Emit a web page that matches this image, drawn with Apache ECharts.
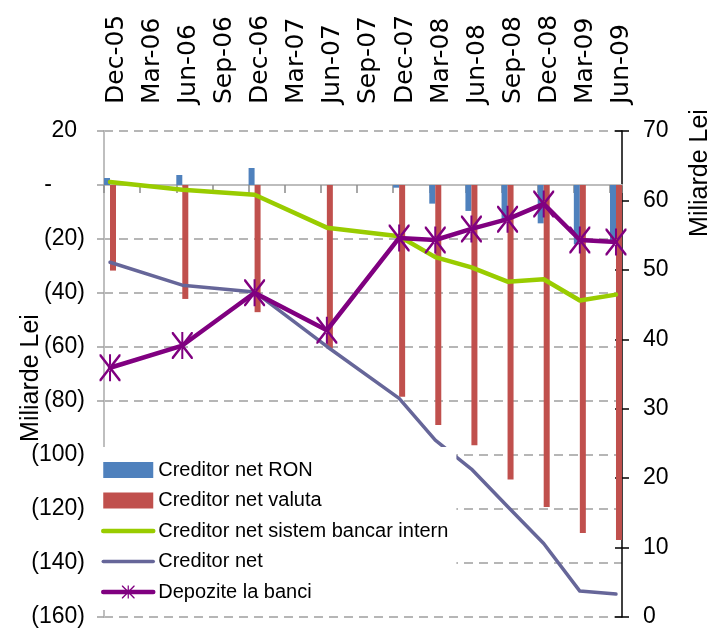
<!DOCTYPE html>
<html>
<head>
<meta charset="utf-8">
<script src="https://cdn.jsdelivr.net/npm/echarts@6/dist/echarts.min.js"></script>
<style>
  html, body { margin: 0; padding: 0; background: #fff; }
  #chart { width: 714px; height: 634px; }
</style>
</head>
<body>
<div id="chart"></div>
<script>
// quarterly tick labels along the top
const tickLabels = ['Dec-05', 'Mar-06', 'Jun-06', 'Sep-06', 'Dec-06', 'Mar-07', 'Jun-07', 'Sep-07',
  'Dec-07', 'Mar-08', 'Jun-08', 'Sep-08', 'Dec-08', 'Mar-09', 'Jun-09']
// dates that carry data
const dates = ['Dec-05', 'Jun-06', 'Dec-06', 'Jun-07', 'Dec-07', 'Mar-08', 'Jun-08', 'Sep-08', 'Dec-08', 'Mar-09', 'Jun-09']

const creditorRon = [2.6, 3.7, 6.3, 0, -1.0, -6.9, -9.6, -12.9, -14.2, -22.0, -21.0]
const creditorValuta = [-31.7, -42.2, -47.1, -60.6, -78.4, -88.9, -96.4, -109.1, -119.3, -128.9, -131.5]
const sistemBancar = [1.1, -1.8, -3.6, -15.8, -19.0, -26.7, -30.5, -35.8, -34.9, -42.8, -40.6]
const creditorNet = [-28.6, -37.1, -39.6, -59.8, -79.0, -94.5, -105.2, -119.1, -132.8, -150.4, -151.5]
const depozite = [35.9, 39.1, 46.7, 41.3, 54.6, 54.3, 55.9, 57.3, 59.5, 54.3, 54.0]

const FONT = '"Liberation Sans", Arial, sans-serif'

// month axis: each date sits in the middle of its month slot
const monthX = d => tickLabels.indexOf(d) * 3 + 0.5
const pairs = arr => dates.map((d, i) => [monthX(d), arr[i]])

const STAR = 'path://M9.5,0 H11.5 V27 H9.5 Z M0,0 L1.6,0 L21,25 L21,27 L19.4,27 L0,2 Z M21,0 L19.4,0 L0,25 L0,27 L1.6,27 L21,2 Z'

const myEChart = echarts.init(document.getElementById('chart'))
const option = {
  animation: false,
  grid: [
    { left: 104, right: 92, top: 131, bottom: 17 },
    // grid used only to carry the top labels
    { left: 116, right: 80, top: 131, bottom: 17 }
  ],
  legend: {
    orient: 'vertical',
    left: 94,
    top: 447,
    padding: [12, 8, 7, 7],
    backgroundColor: '#fff',
    itemWidth: 50,
    itemHeight: 16,
    itemGap: 8.5,
    z: 10,
    lineStyle: { width: 'inherit', cap: 'round' },
    textStyle: { fontFamily: FONT, fontSize: 20, color: '#000', lineHeight: 22 },
    data: [
      { name: 'Creditor net RON', icon: 'rect' },
      { name: 'Creditor net valuta', icon: 'rect' },
      { name: 'Creditor net sistem bancar intern', itemStyle: { opacity: 0 } },
      { name: 'Creditor net', itemStyle: { opacity: 0 } },
      'Depozite la banci'
    ]
  },
  xAxis: [
    {
      type: 'value',
      gridIndex: 0,
      min: 0,
      max: 43,
      interval: 3,
      position: 'bottom',
      axisLine: { show: true, onZero: true, onZeroAxisIndex: 0, lineStyle: { color: '#BDBDBD', width: 2 } },
      axisTick: { show: true, length: 8, lineStyle: { color: '#8C8C8C', width: 1.5 } },
      axisLabel: { show: false },
      splitLine: { show: false }
    },
    {
      type: 'value',
      gridIndex: 1,
      min: 0,
      max: 43,
      interval: 3,
      position: 'top',
      axisLine: { show: false },
      axisTick: { show: false },
      splitLine: { show: false },
      axisLabel: {
        rotate: 90,
        margin: 27,
        fontFamily: '"DejaVu Sans", sans-serif',
        fontSize: 25,
        color: '#000',
        formatter: v => (v % 3 === 0 && tickLabels[v / 3]) ? tickLabels[v / 3] : ''
      }
    }
  ],
  yAxis: [
    {
      type: 'value',
      gridIndex: 0,
      position: 'left',
      min: -160,
      max: 20,
      interval: 20,
      axisLine: { show: true, lineStyle: { color: '#BFBFBF', width: 2 } },
      axisTick: { show: true, length: 7, lineStyle: { color: '#9E9E9E', width: 1.5 } },
      axisLabel: {
        margin: 19,
        fontFamily: FONT,
        fontSize: 23,
        color: '#000',
        formatter: v => v > 0 ? '{pos|' + v + '}' : (v === 0 ? '{zero|-}' : '(' + (-v) + ')'),
        rich: {
          pos: { fontFamily: FONT, fontSize: 23, color: '#000', padding: [0, 8, 0, 0] },
          zero: { fontFamily: FONT, fontSize: 23, color: '#000', padding: [0, 33, 0, 0] }
        }
      },
      splitLine: { show: true, lineStyle: { color: '#9E9E9E', width: 1.5, type: [9, 6] } }
    },
    {
      type: 'value',
      gridIndex: 0,
      position: 'right',
      min: 0,
      max: 70,
      interval: 10,
      axisLine: { show: true, lineStyle: { color: '#000', width: 1.5 } },
      axisTick: { show: true, length: 7, lineStyle: { color: '#000', width: 1.5 } },
      axisLabel: { margin: 21, fontFamily: FONT, fontSize: 23, color: '#000' },
      splitLine: { show: false }
    },
    {
      // inner half of the crossing ticks on the right
      type: 'value',
      gridIndex: 0,
      position: 'right',
      min: 0,
      max: 70,
      interval: 10,
      axisLine: { show: false },
      axisTick: { show: true, inside: true, length: 7, lineStyle: { color: '#000', width: 1.5 } },
      axisLabel: { show: false },
      splitLine: { show: false }
    },
    { type: 'value', gridIndex: 1, min: 0, max: 1, show: false }
  ],
  graphic: [
    {
      type: 'text', x: 31, y: 378, rotation: Math.PI / 2,
      style: { text: 'Miliarde Lei', fontFamily: FONT, fontSize: 25, fill: '#000', align: 'center', verticalAlign: 'middle' }
    },
    {
      type: 'text', x: 700, y: 173, rotation: Math.PI / 2,
      style: { text: 'Miliarde Lei', fontFamily: FONT, fontSize: 25, fill: '#000', align: 'center', verticalAlign: 'middle' }
    }
  ],
  series: [
    {
      name: 'Creditor net RON',
      type: 'bar',
      xAxisIndex: 0,
      yAxisIndex: 0,
      barWidth: 6,
      barGap: '0%',
      itemStyle: { color: '#4F81BD' },
      data: pairs(creditorRon)
    },
    {
      name: 'Creditor net valuta',
      type: 'bar',
      xAxisIndex: 0,
      yAxisIndex: 0,
      barWidth: 6,
      barGap: '0%',
      itemStyle: { color: '#C0504D' },
      data: pairs(creditorValuta)
    },
    {
      name: 'Creditor net sistem bancar intern',
      type: 'line',
      xAxisIndex: 0,
      yAxisIndex: 0,
      symbol: 'none',
      itemStyle: { color: '#99CC00' },
      lineStyle: { color: '#99CC00', width: 4.5, cap: 'round', join: 'round' },
      data: pairs(sistemBancar)
    },
    {
      name: 'Creditor net',
      type: 'line',
      xAxisIndex: 0,
      yAxisIndex: 0,
      symbol: 'none',
      itemStyle: { color: '#666699' },
      lineStyle: { color: '#666699', width: 3.5, cap: 'round', join: 'round' },
      data: pairs(creditorNet)
    },
    {
      name: 'Depozite la banci',
      type: 'line',
      xAxisIndex: 0,
      yAxisIndex: 1,
      symbol: STAR,
      symbolSize: [21, 27],
      itemStyle: { color: '#800080' },
      lineStyle: { color: '#800080', width: 4.5, cap: 'round', join: 'round' },
      data: pairs(depozite)
    }
  ]
}
myEChart.setOption(option)
window.addEventListener('resize', () => {
  myEChart?.resize()
})
</script>
</body>
</html>
